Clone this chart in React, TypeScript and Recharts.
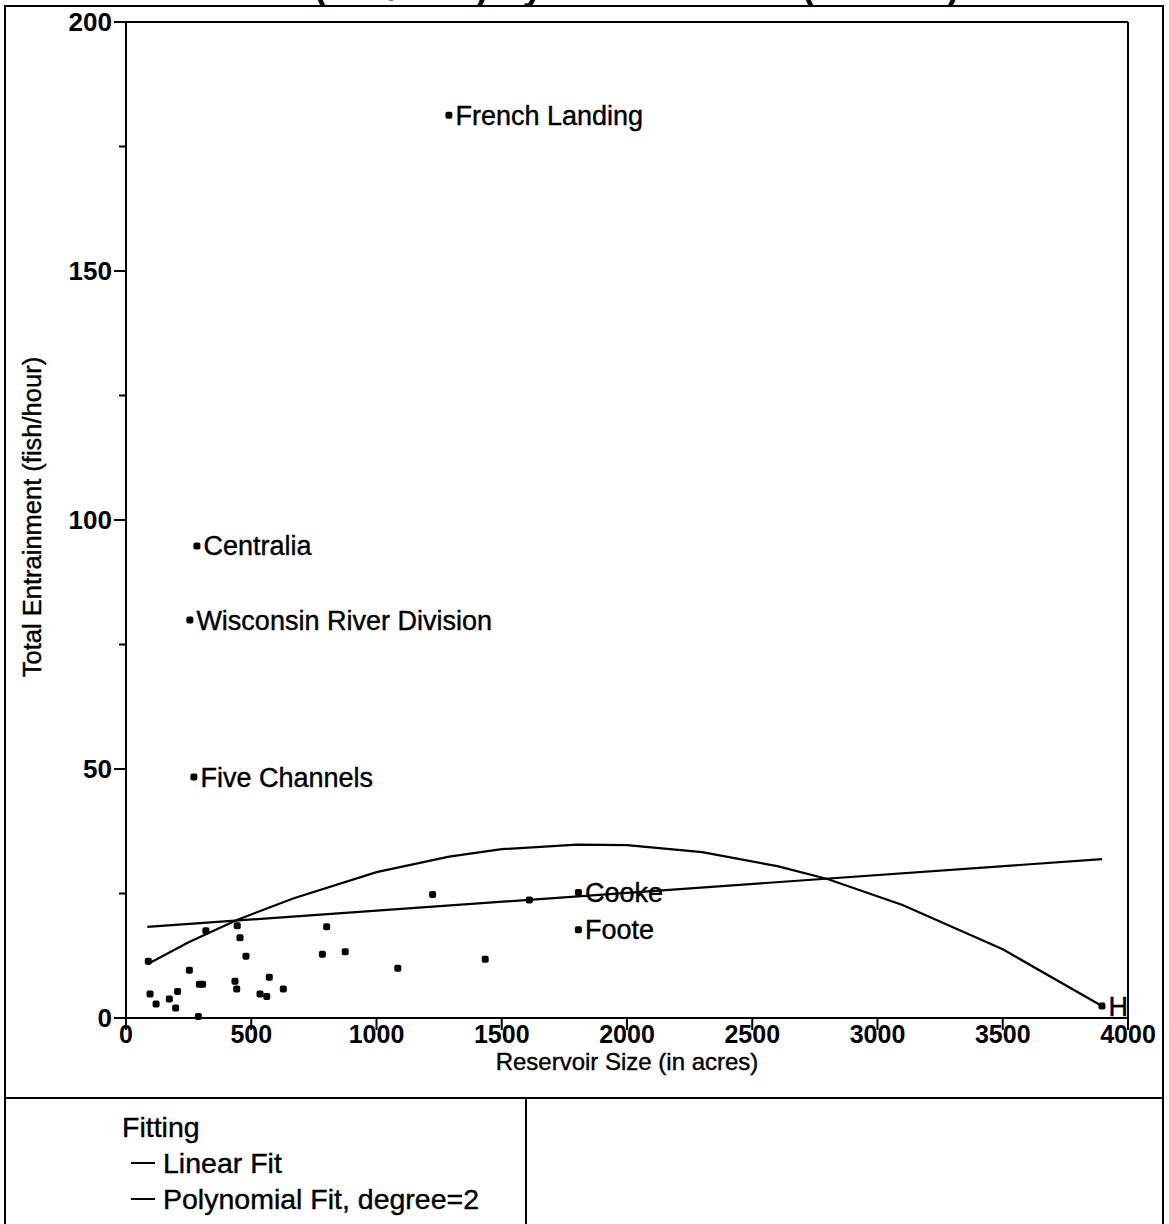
import React from 'react';
import { ScatterChart, Scatter, XAxis, YAxis, ReferenceLine, LabelList } from 'recharts';

// reservoir size (acres) / total entrainment (fish/hour), unlabelled sites
const siteAcres = [89, 96, 120, 173, 198, 206, 253, 289, 293, 306, 319, 435, 442, 444, 455, 479, 535, 562, 572, 628, 784, 801, 875, 1085, 1224, 1434, 1610];
const siteFish = [11.4, 4.8, 2.8, 3.8, 2.0, 5.3, 9.6, 0.3, 6.8, 6.8, 17.5, 7.4, 5.8, 18.5, 16.1, 12.4, 4.8, 4.3, 8.2, 5.8, 12.8, 18.3, 13.3, 10.0, 24.8, 11.8, 23.7];

// labelled sites
const namedSites = ['French Landing', 'Centralia', 'Wisconsin River Division', 'Five Channels', 'Cooke', 'Foote', 'H'];
const namedAcres = [1289, 283, 255, 271, 1806, 1806, 3896];
const namedFish = [181.3, 94.8, 79.9, 48.4, 25.2, 17.7, 2.4];

// fitted lines
const linearAcres = [85, 3896];
const linearFish = [18.3, 31.9];
const polyAcres = [85, 250, 443, 667, 1000, 1290, 1500, 1800, 2000, 2300, 2600, 2800, 3100, 3500, 3896];
const polyFish = [10.8, 15.2, 19.7, 24.0, 29.3, 32.4, 33.9, 34.8, 34.7, 33.3, 30.5, 27.9, 22.7, 13.8, 2.4];

const xTicks = [0, 500, 1000, 1500, 2000, 2500, 3000, 3500, 4000];
const yTicks = [0, 25, 50, 75, 100, 125, 150, 175, 200];
const legendItems = ['Linear Fit', 'Polynomial Fit, degree=2'];

const FONT = '"Liberation Sans", Arial, Helvetica, sans-serif';

const sites = siteAcres.map((x, i) => ({ x, y: siteFish[i] }));
const named = namedAcres.map((x, i) => ({ x, y: namedFish[i], name: namedSites[i] }));
const linear = linearAcres.map((x, i) => ({ x, y: linearFish[i] }));
const poly = polyAcres.map((x, i) => ({ x, y: polyFish[i] }));

const Dot = (p: any) => <rect x={p.cx - 3.5} y={p.cy - 3.5} width={7} height={7} rx={2} fill="#000" />;
const NoDot = () => <g />;

const YTick = (p: any) => {
  const { x, y, payload } = p;
  const major = payload.value % 50 === 0;
  return (
    <g>
      <line x1={x} x2={x - (major ? 12 : 7)} y1={y} y2={y} stroke="#000" strokeWidth={2} />
      {major && (
        <text x={x - 14} y={y} dy="0.36em" textAnchor="end" fontSize={26} fontWeight="bold" fontFamily={FONT} fill="#000">
          {payload.value}
        </text>
      )}
    </g>
  );
};

const XTick = (p: any) => {
  const { x, y, payload } = p;
  return (
    <g>
      <line x1={x} x2={x} y1={y} y2={y + 12} stroke="#000" strokeWidth={2} />
      <text x={x} y={y + 25} textAnchor="middle" fontSize={25} fontWeight="bold" fontFamily={FONT} fill="#000">
        {payload.value}
      </text>
    </g>
  );
};

export default function App() {
  return (
    <div style={{ position: 'relative', width: 1169, height: 1224, background: '#fff', overflow: 'hidden', fontFamily: FONT, color: '#000' }}>
      <style>{'body{margin:0}'}</style>
      <div style={{ position: 'absolute', left: 10, top: -32, fontSize: 35, fontWeight: 'bold', whiteSpace: 'nowrap' }}>
        Total Entrainment (fish/hour) By Reservoir Size (in acres)
      </div>
      <div style={{ position: 'absolute', left: 4, top: 5, width: 1160, height: 1094, border: '2px solid #000', boxSizing: 'border-box' }} />
      <div style={{ position: 'absolute', left: 4, top: 1097, width: 523, height: 140, border: '2px solid #000', boxSizing: 'border-box' }} />
      <div style={{ position: 'absolute', left: 525, top: 1097, width: 639, height: 140, border: '2px solid #000', boxSizing: 'border-box' }} />
      <div style={{ position: 'absolute', left: 122, top: 1109, fontSize: 28.5, lineHeight: '36px', WebkitTextStroke: '0.4px #000' }}>
        <div>Fitting</div>
        {legendItems.map((t) => (
          <div key={t} style={{ display: 'flex', alignItems: 'center', marginLeft: 9 }}>
            <span style={{ display: 'inline-block', width: 24, height: 2.5, background: '#000', marginRight: 8 }} />
            {t}
          </div>
        ))}
      </div>
      <div style={{ position: 'absolute', left: 0, top: 0 }}>
        <ScatterChart width={1169} height={1100} margin={{ top: 22, right: 41, bottom: 0, left: 0 }}>
          <XAxis
            dataKey="x"
            type="number"
            domain={[0, 4000]}
            ticks={xTicks}
            height={82}
            tickSize={0}
            tickMargin={0}
            tick={<XTick />}
            axisLine={{ stroke: '#000', strokeWidth: 2 }}
            label={{ value: 'Reservoir Size (in acres)', position: 'insideBottom', offset: 30, fontSize: 24, fill: '#000', fontFamily: FONT, stroke: '#000', strokeWidth: 0.4 }}
          />
          <YAxis
            dataKey="y"
            type="number"
            domain={[0, 200]}
            ticks={yTicks}
            width={126}
            tickSize={0}
            tickMargin={0}
            tick={<YTick />}
            axisLine={{ stroke: '#000', strokeWidth: 2 }}
            label={{
              content: () => (
                <text x={41} y={517} transform="rotate(-90 41 517)" textAnchor="middle" fontSize={25.5} fontFamily={FONT} fill="#000" stroke="#000" strokeWidth={0.4}>
                  Total Entrainment (fish/hour)
                </text>
              ),
            }}
          />
          <ReferenceLine y={200} stroke="#000" strokeWidth={2} />
          <ReferenceLine x={4000} stroke="#000" strokeWidth={2} />
          <Scatter data={linear} line={{ stroke: '#000', strokeWidth: 2.2 }} shape={<NoDot />} isAnimationActive={false} />
          <Scatter data={poly} line={{ stroke: '#000', strokeWidth: 2.2 }} shape={<NoDot />} isAnimationActive={false} />
          <Scatter data={sites} shape={<Dot />} isAnimationActive={false} />
          <Scatter data={named} shape={<Dot />} isAnimationActive={false}>
            <LabelList dataKey="name" position="right" offset={2} fontSize={27} fill="#000" fontFamily={FONT} stroke="#000" strokeWidth={0.4} />
          </Scatter>
        </ScatterChart>
      </div>
    </div>
  );
}
